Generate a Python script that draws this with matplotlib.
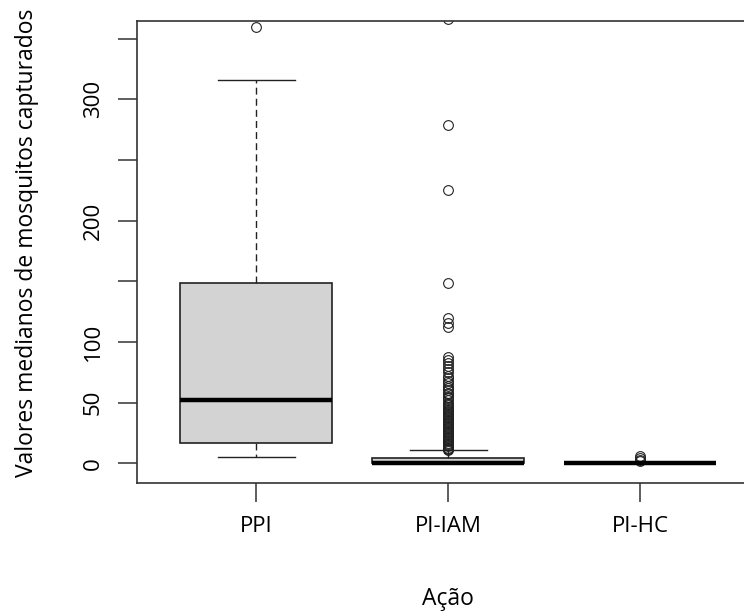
import matplotlib
matplotlib.use("Agg")
import matplotlib.pyplot as plt

# data
groups = ["PPI", "PI-IAM", "PI-HC"]
q1 = [16.5, 0, 0]
med = [52, 0, 0]
q3 = [149, 4, 0]
whislo = [5, 0, 0]
whishi = [316, 11, 0]
fliers_ppi = [360]
fliers_iam = [366, 279, 225, 149, 120, 116, 112,
              88, 85, 83, 80, 78, 75, 72, 70, 68, 66, 64, 62, 60, 58, 57,
              55, 54, 52, 50, 49, 48, 46, 45, 44, 43, 42, 41, 40, 39, 38,
              37, 36, 35, 34, 33, 32, 31, 30, 29, 28, 27, 26, 25, 24, 23,
              22, 21, 20, 19, 18, 17, 16, 15, 14, 13, 12, 12, 11]
fliers_hc = [6, 4, 3, 2]
yticks = [0, 50, 100, 150, 200, 250, 300, 350]
ytick_labels = ["0", "50", "100", "", "200", "", "300", ""]

plt.rcParams["font.family"] = ["Open Sans", "DejaVu Sans"]

fig = plt.figure(figsize=(7.44, 6.12), dpi=100)
ax = fig.add_axes([0.1845, 0.2113, 0.8357, 0.7544])

stats = []
for i, g in enumerate(groups):
    stats.append(dict(label=g, q1=q1[i], med=med[i], q3=q3[i],
                      whislo=whislo[i], whishi=whishi[i],
                      fliers=[fliers_ppi, fliers_iam, fliers_hc][i]))

ax.bxp(stats, positions=[1, 2, 3], widths=0.79, patch_artist=True,
       boxprops=dict(facecolor="#d3d3d3", edgecolor="#222222", linewidth=1.2),
       medianprops=dict(color="black", linewidth=3.2, solid_capstyle="butt"),
       whiskerprops=dict(color="#222222", linewidth=1, linestyle=(0, (5, 3))),
       capprops=dict(color="#222222", linewidth=1),
       capwidths=0.4,
       flierprops=dict(marker="o", markerfacecolor="none", markeredgecolor="#222222",
                       markersize=7, markeredgewidth=0.8))

ax.set_xlim(0.38, 3.62)
ax.set_ylim(-16, 364.6)
ax.set_yticks(yticks)
ax.set_yticklabels(ytick_labels, rotation=90, va="center")
ax.set_xticks([1, 2, 3])
ax.set_xticklabels(groups)
ax.tick_params(axis="both", length=14, width=1.1, color="#333333", labelsize=16, pad=10)

for s in ax.spines.values():
    s.set_color("#333333")
    s.set_linewidth(1.2)

ax.set_ylabel("Valores medianos de mosquitos capturados", fontsize=16.5)
ax.yaxis.set_label_coords(-0.158, 0.52)
ax.set_xlabel("Ação", fontsize=16.5, labelpad=36)

fig.savefig("out.png", dpi=100)
